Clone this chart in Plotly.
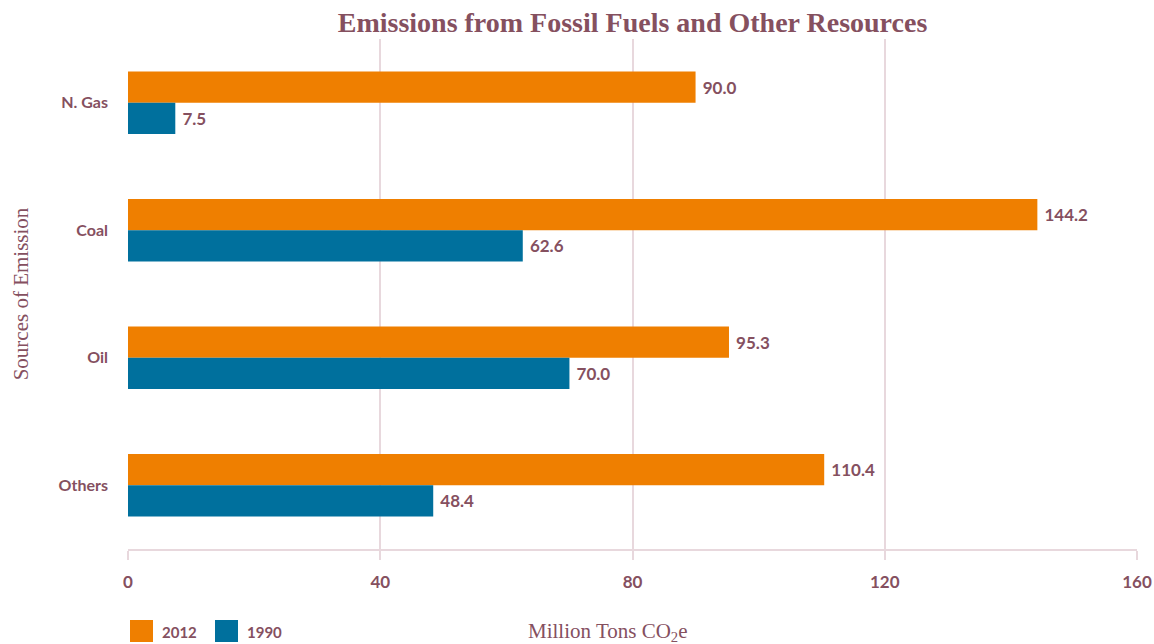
import plotly.graph_objects as go

# Emission sources (top to bottom) and values in million tons CO2e
sources = ["N. Gas", "Coal", "Oil", "Others"]
values_2012 = [90.0, 144.2, 95.3, 110.4]
values_1990 = [7.5, 62.6, 70.0, 48.4]
years = ["2012", "1990"]
x_ticks = [0, 40, 80, 120, 160]

ORANGE = "#EF7F00"
BLUE = "#00709D"
TEXT = "#85505F"
GRID = "#E8D8DD"

W, H = 1154, 644
L, R, T, B = 128, 17, 39, 95
PW, PH = W - L - R, H - T - B

fig = go.Figure()
for name, vals, color in [(years[0], values_2012, ORANGE), (years[1], values_1990, BLUE)]:
    fig.add_trace(go.Bar(
        y=sources, x=vals, name=name, orientation="h",
        marker=dict(color=color, line=dict(width=0)),
        text=[f" {v:.1f}" for v in vals], textposition="outside",
        textfont=dict(family="Lato", size=17, color=TEXT, weight="bold"),
        cliponaxis=False, showlegend=False,
    ))

fig.update_layout(
    width=W, height=H,
    margin=dict(l=L, r=R, t=T, b=B, autoexpand=False),
    paper_bgcolor="white", plot_bgcolor="white",
    barmode="group", bargap=0.51, bargroupgap=0,
    title=dict(text="<b>Emissions from Fossil Fuels and Other Resources</b>",
               x=0.5, xref="paper", xanchor="center",
               y=1 - 22 / H, yref="container", yanchor="middle",
               font=dict(family="Liberation Serif", size=28, color=TEXT)),
    xaxis=dict(range=[0, 160], tickvals=x_ticks, showgrid=True, gridcolor=GRID, gridwidth=1.5,
               zeroline=False, showline=True, linecolor=GRID, linewidth=2,
               ticks="outside", ticklen=9, tickcolor=GRID, tickwidth=1.5,
               ticklabelstandoff=8, automargin=False,
               tickfont=dict(family="Lato", size=17, color=TEXT, weight="bold")),
    yaxis=dict(autorange="reversed", showgrid=False, showline=False, ticks="",
               ticklabelstandoff=19, automargin=False,
               tickfont=dict(family="Lato", size=16, color=TEXT, weight="bold"),
               title=dict(text="Sources of Emission", standoff=24,
                          font=dict(family="Liberation Serif", size=21, color=TEXT))),
)

# x-axis title, set on the legend row
fig.add_annotation(xref="paper", yref="paper", x=(608 - L) / PW, y=-(632 - (T + PH)) / PH,
                   text="Million Tons CO<sub>2</sub>e", showarrow=False,
                   xanchor="center", yanchor="middle",
                   font=dict(family="Liberation Serif", size=21, color=TEXT))

# Legend swatches and labels drawn below the plot
legend_items = [(years[0], ORANGE, 130), (years[1], BLUE, 215)]
for label, color, px in legend_items:
    fig.add_shape(type="rect", xref="paper", yref="paper",
                  x0=(px - L) / PW, x1=(px + 23 - L) / PW,
                  y0=-(642 - (T + PH)) / PH, y1=-(620 - (T + PH)) / PH,
                  fillcolor=color, line=dict(width=0))
    fig.add_annotation(xref="paper", yref="paper", x=(px + 30 - L) / PW,
                       y=-(632 - (T + PH)) / PH, text=label, showarrow=False,
                       xanchor="left", yanchor="middle",
                       font=dict(family="Lato", size=15, color=TEXT, weight="bold"))

fig.write_html("out.html")
